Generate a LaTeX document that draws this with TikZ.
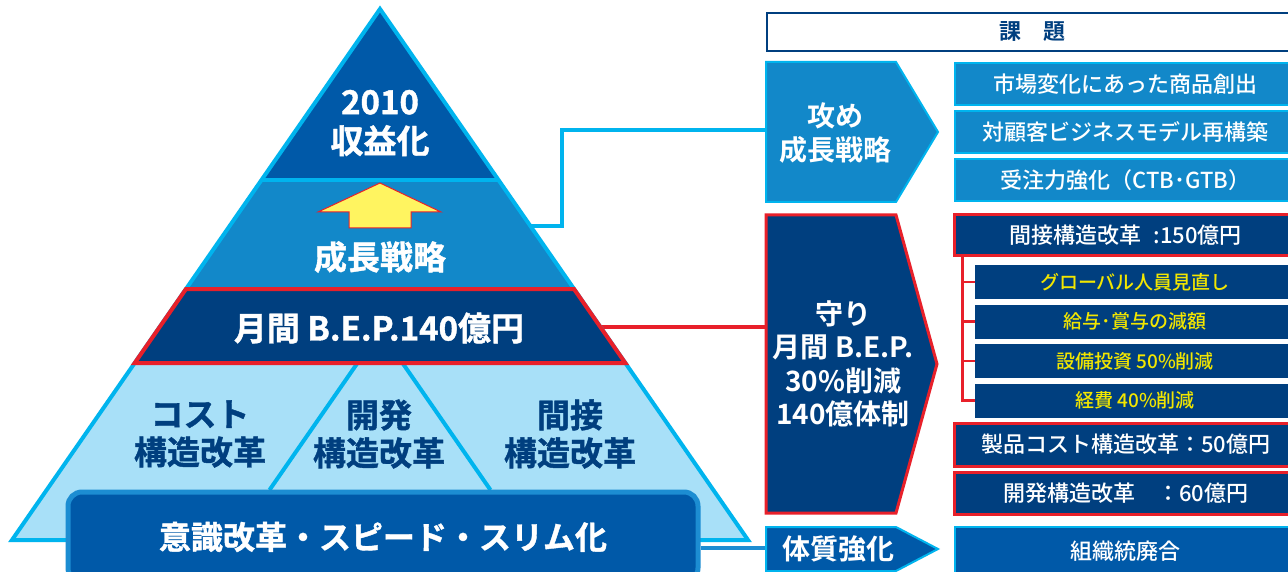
\documentclass[tikz,border=0pt]{standalone}
\usepackage{fontspec}
\setmainfont{Noto Sans CJK JP Bold}
\newfontfamily\heavy{Noto Sans CJK JP Bold}[FakeBold=1.2]
\newfontfamily\medfont{Noto Sans CJK JP Medium}
\definecolor{dblue}{HTML}{0059A8}
\definecolor{mblue}{HTML}{1288C9}
\definecolor{navy}{HTML}{003F7F}
\definecolor{lband}{HTML}{A8E0F8}
\definecolor{cyanl}{HTML}{00B4EE}
\definecolor{redl}{HTML}{E8202A}
\definecolor{ytext}{HTML}{F2E600}
\definecolor{arrowy}{HTML}{FFF460}
\definecolor{barline}{HTML}{1C8DD2}
\begin{document}
\begin{tikzpicture}[x=1pt,y=-1pt,
  pyrtext/.style={font=\heavy\fontsize{33}{39}\selectfont, text=white, align=center, inner sep=0},
  lowtext/.style={font=\heavy\fontsize{33}{38}\selectfont, text=navy, align=center, inner sep=0},
  chevtext/.style={font=\fontsize{28}{34}\selectfont, text=white, align=center, inner sep=0},
  boxbase/.style={minimum width=342, inner sep=0, font=\medfont\fontsize{22}{26}\selectfont, text=white},
  cbox/.style={boxbase, draw=cyanl, fill=mblue, line width=2, minimum height=42},
  rbox/.style={boxbase, draw=redl, fill=navy, line width=3, minimum height=42},
  subbox/.style={minimum width=320, minimum height=34, inner sep=0, fill=navy, font=\medfont\fontsize{19}{23}\selectfont, text=ytext},
  cyanconn/.style={draw=cyanl, line width=4.5},
  redconn/.style={draw=redl, line width=4},
  bracket/.style={draw=redl, line width=2.5}
]
\useasboundingbox (0,0) rectangle (1288,572);
\fill[white] (0,0) rectangle (1288,572);

% connectors (behind shapes)
\coordinate (pyrA) at (530.4,226);
\coordinate (semeL) at (768,130);
\draw[cyanconn] (pyrA) -- ++(31.6,0) |- (semeL);
\coordinate (bandR) at (600.4,327);
\coordinate (mamoriL) at (768,327);
\draw[redconn] (bandR) -- (mamoriL);

% pyramid
\fill[dblue] (380,9) -- (498.5,180) -- (261.5,180) -- cycle;
\fill[mblue] (261.5,180) -- (498.5,180) -- (574,289) -- (186,289) -- cycle;
\fill[lband] (134.7,363) -- (625.3,363) -- (748,540) -- (12,540) -- cycle;
\draw[cyanl, line width=4] (357.5,363) -- (269.5,490);
\draw[cyanl, line width=4] (402.5,363) -- (490.5,490);
\draw[cyanl, line width=4, line join=miter] (380,9) -- (748,540) -- (12,540) -- cycle;
\draw[cyanl, line width=4] (261.5,180) -- (498.5,180);
\filldraw[fill=navy, draw=redl, line width=4] (186,289) -- (574,289) -- (625.3,363) -- (134.7,363) -- cycle;
\filldraw[fill=arrowy, draw=redl, line width=1] (380,183) -- (441,212) -- (411,212) -- (411,228) -- (349,228) -- (349,212) -- (318,212) -- cycle;

\node[pyrtext] (top) at (380,123) {2010\\収益化};
\node[pyrtext] (growth) at (380,257) {成長戦略};
\node[pyrtext] (bep) at (379,328) {月間 B.E.P.140億円};
\node[lowtext] (cost) at (200,434) {コスト\\構造改革};
\node[lowtext] (dev) at (379,434) {開発\\構造改革};
\node[lowtext] (ind) at (570,434) {間接\\構造改革};

% bottom bar
\node[draw=barline, fill=dblue, line width=5, rounded corners=14, minimum width=630, minimum height=90, inner sep=0, font=\heavy\fontsize{32}{38}\selectfont, text=white] (bar) at (383,537) {意識改革・スピード・スリム化};
\coordinate (taiL) at (768,548);
\draw[draw=barline, line width=4] (bar.east |- taiL) -- (taiL);

% header
\node[draw=navy, fill=white, line width=2, minimum width=530, minimum height=38, inner sep=0, font=\fontsize{22}{26}\selectfont, text=navy, anchor=west] (kadai) at (766,31.7) {課　題};

% chevrons
\filldraw[fill=mblue, draw=cyanl, line width=2] (766,62) -- (896,62) -- (938,132) -- (896,202) -- (766,202) -- cycle;
\node[chevtext] (seme) at (835,133) {攻め\\成長戦略};
\filldraw[fill=navy, draw=redl, line width=3] (766,215) -- (896,215) -- (937,364) -- (896,513) -- (766,513) -- cycle;
\node[chevtext, font=\fontsize{28}{33.5}\selectfont] (mamori) at (843,364) {守り\\月間 B.E.P.\\30\%削減\\140億体制};
\filldraw[fill=dblue, draw=cyanl, line width=2] (766,527) -- (896,527) -- (938,549) -- (896,571) -- (766,571) -- cycle;
\node[chevtext] (tai) at (838,549) {体質強化};

% right boxes
\node[cbox] (r1) at (1125.6,84) {市場変化にあった商品創出};
\node[cbox] (r2) at (1125.6,132.4) {対顧客ビジネスモデル再構築};
\node[cbox] (r3) at (1125.6,180.4) {受注力強化（CTB･GTB）};
\node[rbox, minimum height=41] (kansetsu) at (1125.6,235.5) {間接構造改革\hspace{12pt}:150億円};
\node[subbox] (sa) at (1135,282) {グローバル人員見直し};
\node[subbox] (sb) at (1135,321.5) {給与･賞与の減額};
\node[subbox] (sc) at (1135,361) {設備投資 50\%削減};
\node[subbox] (sd) at (1135,400.5) {経費 40\%削減};
\coordinate (brk) at ([xshift=9.4]kansetsu.south west);
\draw[bracket] (brk) -- (brk |- sd.west) -- (sd.west);
\foreach \n in {sa,sb,sc} \draw[bracket] (brk |- \n.west) -- (\n.west);
\node[rbox, minimum height=43] (seihin) at (1125.6,444.5) {製品コスト構造改革：50億円};
\node[rbox] (kaihatsu) at (1125.6,493) {開発構造改革　：60億円};
\node[boxbase, draw=cyanl, fill=dblue, line width=2, minimum height=48] (soshiki) at (1125.6,551) {組織統廃合};
\end{tikzpicture}
\end{document}
